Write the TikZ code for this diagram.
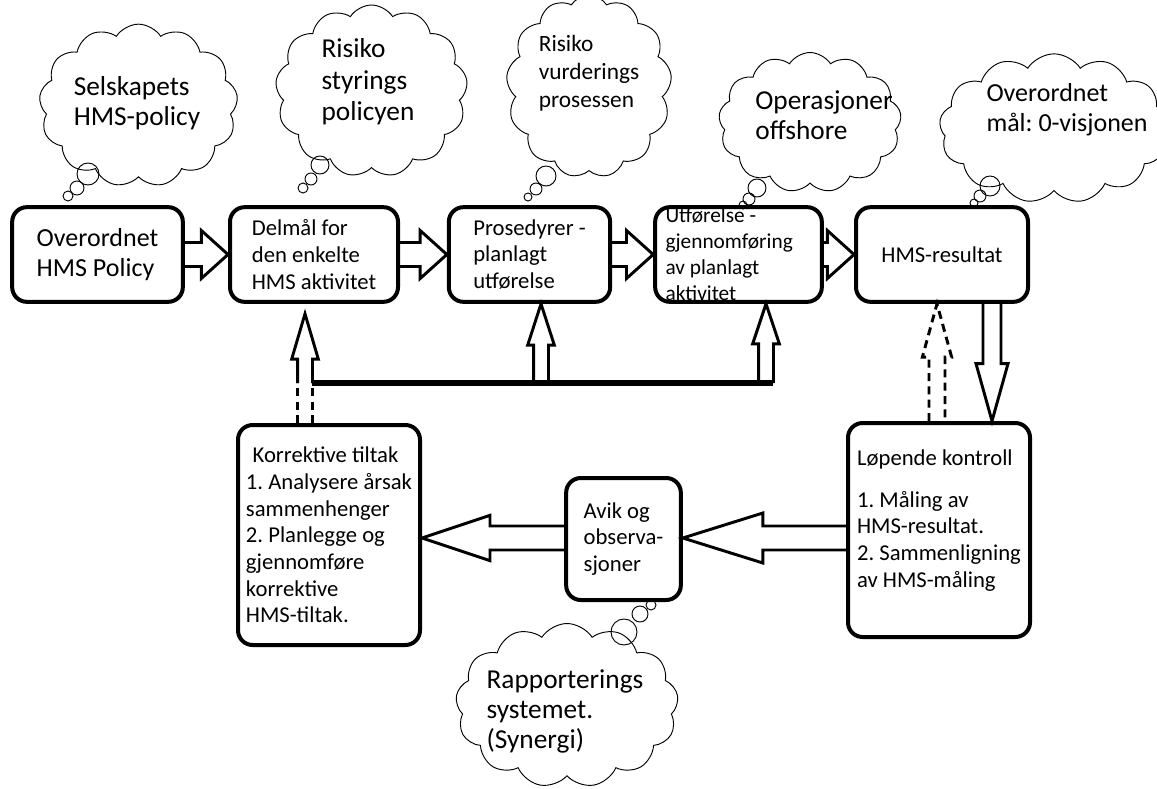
\documentclass[tikz,border=0pt]{standalone}
\usepackage{fontspec}
\setmainfont{Carlito}
\usetikzlibrary{shapes.symbols,calc}
\frenchspacing

\newcommand\boxfont{\fontsize{17}{20}\selectfont}
\newcommand\bigboxfont{\fontsize{19.5}{22}\selectfont}
\newcommand\cloudfont{\fontsize{20.5}{22.5}\selectfont}
\newcommand\smallcloudfont{\fontsize{17.5}{21}\selectfont}

\tikzset{
  procbox/.style={draw, line width=3pt, rounded corners=11pt, align=left, font=\boxfont, inner sep=2pt},
  thought/.style={draw, cloud, cloud puffs=13, cloud puff arc=115, cloud ignores aspect, line width=0.7pt, inner sep=0pt},
  cloudtext/.style={align=left, font=\cloudfont},
  puff/.style={line width=0.7pt},
  blockline/.style={line width=2.2pt, line join=miter},
  dashline/.style={dash pattern=on 6pt off 4pt},
  feedline/.style={line width=3.8pt},
}

% hollow block arrow: [opts]{from}{to}{shaft half}{head half}{head length}
\newcommand\blockarrow[6][]{%
  \path ($(#3)!#6!(#2)$) coordinate (bah);
  \draw[blockline,#1] ($(#2)!#4!90:(#3)$) -- ($(bah)!#4!90:(#3)$) -- ($(bah)!#5!90:(#3)$)
    -- (#3) -- ($(bah)!#5!-90:(#3)$) -- ($(bah)!#4!-90:(#3)$) -- ($(#2)!#4!-90:(#3)$);
}

\begin{document}
\begin{tikzpicture}[x=0.75pt,y=0.75pt]
\useasboundingbox (0,0) rectangle (1157,-789);

% top row
\node[procbox, font=\bigboxfont, minimum width=128pt, minimum height=71pt] (ovp) at (97.5,-254.5) {Overordnet\\HMS Policy};
\node[procbox, minimum width=126pt, minimum height=71pt] (del) at (314,-254.5) {Delmål for\\den enkelte\\HMS aktivitet};
\node[procbox, minimum width=121pt, minimum height=71pt] (pro) at (529.5,-254.5) {Prosedyrer -\\planlagt\\utførelse};
\node[procbox, minimum width=125pt, minimum height=71pt,
  label={[align=left, font=\fontsize{16}{19.5}\selectfont, xshift=-7pt]center:{Utførelse -\\gjennomføring\\av planlagt\\aktivitet}}] (utf) at (738.5,-254.5) {};
\node[procbox, minimum width=129pt, minimum height=71pt] (hms) at (942,-254.5) {HMS-resultat};

% bottom row
\node[procbox, minimum width=136.5pt, minimum height=160.5pt,
  label={[align=left, font=\boxfont, yshift=7pt]center:{Løpende kontroll\\[11pt]1. Måling av\\HMS-resultat.\\2. Sammenligning\\av HMS-måling}}] (lop) at (939,-530) {};
\node[procbox, minimum width=86pt, minimum height=91.5pt] (avk) at (623.5,-539) {Avik og\\observa-\\sjoner};
\node[procbox, minimum width=136.5pt, minimum height=165pt, inner xsep=1pt] (kor) at (329,-535)
  {\hspace{5pt}Korrektive tiltak\\1. Analysere årsak\\sammenhenger\\2. Planlegge og\\gjennomføre\\korrektive\\HMS-tiltak.};

% clouds
\node[thought, minimum width=149pt, minimum height=122pt] (c1) at (138.5,-105.5) {};
\node[cloudtext] (c1t) at (137,-103) {Selskapets\\HMS-policy};
\node[thought, minimum width=144pt, minimum height=129pt] (c2) at (371.5,-91) {};
\node[cloudtext, font=\fontsize{20.5}{23.5}\selectfont] (c2t) at (368,-82) {Risiko\\styrings\\policyen};
\node[thought, minimum width=124pt, minimum height=137pt] (c3) at (589,-86.5) {};
\node[cloudtext, font=\smallcloudfont] (c3t) at (589,-73) {Risiko\\vurderings\\prosessen};
\node[thought, minimum width=137pt, minimum height=105pt] (c4) at (810,-122.5) {};
\node[cloudtext] (c4t) at (824,-115) {Operasjoner\\offshore};
\node[thought, minimum width=172pt, minimum height=112pt] (c5) at (1054,-128.5) {};
\node[cloudtext, font=\fontsize{19.5}{22.5}\selectfont] (c5t) at (1067,-110) {Overordnet\\mål: 0-visjonen};
\node[thought, minimum width=167pt, minimum height=123pt] (c6) at (567,-705.5) {};
\node[cloudtext] (c6t) at (565,-711) {Rapporterings\\systemet.\\(Synergi)};

\foreach \x/\y/\r in {88/-174/11, 77/-188/7, 68/-196/5,
    320/-165/9, 311/-179/6, 303/-188/5,
    546/-176/10, 536/-189/6, 528/-197/4,
    757/-188/9, 749/-199/6, 743/-205/4,
    990/-186/10, 980/-196/6, 974/-203/4,
    624/-632/13, 640/-614/8, 651/-605/5}
  \draw[puff] (\x,\y) circle (\r);

% flow arrows
\blockarrow{ovp.east}{del.west}{9pt}{18pt}{20pt}
\blockarrow{del.east}{pro.west}{9pt}{18pt}{20pt}
\blockarrow{pro.east}{utf.west}{9pt}{18pt}{20pt}
\blockarrow{utf.east}{hms.west}{9pt}{18pt}{20pt}

\coordinate (dnx) at (992,0);
\coordinate (dntop) at (dnx |- hms.south);
\coordinate (dnbot) at (dnx |- lop.north);
\blockarrow{dntop}{dnbot}{6.75pt}{12pt}{43pt}

\coordinate (upx) at (937,0);
\coordinate (upbot) at (upx |- lop.north);
\coordinate (uptop) at (upx |- hms.south);
\blockarrow[dashline]{upbot}{uptop}{6pt}{11pt}{40pt}

\coordinate (row) at (0,-538);
\coordinate (lopw) at (row -| lop.west);
\coordinate (avke) at (row -| avk.east);
\coordinate (avkw) at (row -| avk.west);
\coordinate (kore) at (row -| kor.east);
\blockarrow{lopw}{avke}{9pt}{18.75pt}{60pt}
\blockarrow{avkw}{kore}{9pt}{17pt}{51pt}

% feedback line
\coordinate (fbl) at (305,-383);
\coordinate (fbm) at (541,-383);
\coordinate (fbr) at (766,-383);
\coordinate (delin) at ($(fbl |- del.south)+(0,-10)$);
\coordinate (proin) at (fbm |- pro.south);
\coordinate (utfin) at (fbr |- utf.south);
\coordinate (korup) at (fbl |- kor.north);
\draw[feedline] ($(fbl)+(7,0)$) -- ($(fbr)+(7,0)$);
\blockarrow{fbl}{delin}{5.6pt}{10pt}{34pt}
\blockarrow{fbm}{proin}{5.6pt}{10pt}{31pt}
\blockarrow{fbr}{utfin}{5.6pt}{10pt}{30pt}
\draw[blockline, dashline] ($(korup)+(-7.5,0)$) -- ($(fbl)+(-7.5,0)$);
\draw[blockline, dashline] ($(korup)+(7.5,0)$) -- ($(fbl)+(7.5,0)$);
\end{tikzpicture}
\end{document}
